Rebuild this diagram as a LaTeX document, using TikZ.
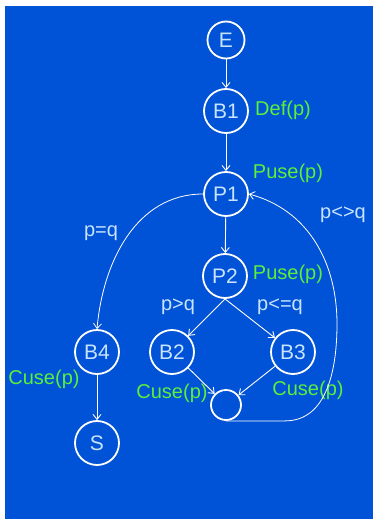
\documentclass[tikz,border=0pt]{standalone}
\usepackage{fontspec}
\setmainfont{Liberation Sans}
\usetikzlibrary{arrows.meta}
\definecolor{slidebg}{RGB}{0,82,214}
\definecolor{nodetxt}{RGB}{200,228,255}
\definecolor{usegreen}{RGB}{90,240,60}
\begin{document}
\begin{tikzpicture}[x=1pt,y=1pt,
    blk/.style={circle,draw=white,line width=1.8pt,minimum size=44pt,inner sep=0pt,text=nodetxt,font=\fontsize{21}{24}\selectfont},
    use/.style={text=usegreen,font=\fontsize{20}{24}\selectfont,inner sep=0pt},
    cond/.style={text=nodetxt,font=\fontsize{20}{24}\selectfont,inner sep=0pt},
    arr/.style={draw=white,line width=0.9pt,-{Straight Barb[length=5pt,width=8pt]}}]
  \fill[white] (0,0) rectangle (373,-519);
  \useasboundingbox (0,0) rectangle (373,-519);
  \fill[slidebg] (5,-6) rectangle (373,-519);
  \node[blk,minimum size=37pt] (E) at (226,-40) {E};
  \node[blk] (B1) at (226,-111) {B1};
  \node[blk] (P1) at (226,-194) {P1};
  \node[blk] (P2) at (225,-276) {P2};
  \node[blk] (B4) at (97,-352) {B4};
  \node[blk] (B2) at (172,-352) {B2};
  \node[blk] (B3) at (293,-352) {B3};
  \node[blk,minimum size=30pt] (X) at (226,-405) {};
  \node[blk] (S) at (97,-443) {S};
  \node[use] (defB1) at (283,-110) {Def(p)};
  \node[use] (puseP1) at (288,-173) {Puse(p)};
  \node[use] (puseP2) at (288,-274) {Puse(p)};
  \node[use] (cuseB4) at (44,-379) {Cuse(p)};
  \node[use] (cuseB2) at (172,-393) {Cuse(p)};
  \node[use] (cuseB3) at (308,-390) {Cuse(p)};
  \node[cond] (lEq) at (101,-233) {p=q};
  \node[cond] (lNe) at (343,-215) {p<>q};
  \node[cond] (lGt) at (178,-307) {p>q};
  \node[cond] (lLe) at (280,-307) {p<=q};
  \draw[arr] (E) -- (B1);
  \draw[arr] (B1) -- (P1);
  \draw[arr] (P1) -- (P2);
  \draw[arr] (P2.south) -- (B2);
  \draw[arr] (P2.south) -- (B3);
  \draw[arr] (B2) -- (X);
  \draw[arr] (B3) -- (X);
  \draw[arr] (B4) -- (S);
  \draw[arr,line width=0.8pt] (P1.west) to[out=180,in=85] (B4.north);
  \draw[arr,line width=0.8pt] (X.south) -- ++(59,0) to[out=0,in=-90] ++(52,97) to[out=90,in=-15] (P1.east);
\end{tikzpicture}
\end{document}
